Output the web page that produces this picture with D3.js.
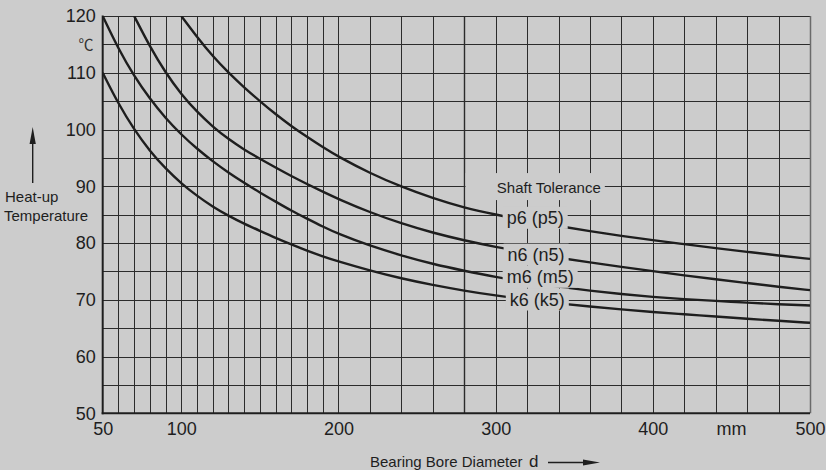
<!DOCTYPE html>
<html>
<head>
<meta charset="utf-8">
<script src="https://cdn.jsdelivr.net/npm/d3@7"></script>
<style>
  html, body { margin: 0; padding: 0; background: #cccccc; }
  svg { display: block; font-family: "Liberation Sans", Arial, Helvetica, sans-serif; }
</style>
</head>
<body>
<div id="chart"></div>
<script>
// bearing bore diameter d (mm) and heat-up temperature (deg C)
var diamP6 = [100, 110, 120, 130, 140, 150, 160, 170, 180, 190, 200, 220, 240, 260, 280, 300, 320, 340, 360, 380, 400, 420, 440, 460, 480, 500];
var tempP6 = [120, 116.3, 112.9, 110, 107.4, 105, 102.7, 100.6, 98.7, 96.9, 95.2, 92.3, 89.9, 87.9, 86.2, 85, 83.95, 83, 82.1, 81.25, 80.5, 79.8, 79.1, 78.45, 77.8, 77.2];

var diamN6 = [70, 80, 90, 100, 110, 120, 130, 140, 150, 160, 170, 180, 190, 200, 220, 240, 260, 280, 300, 320, 340, 360, 380, 400, 420, 440, 460, 480, 500];
var tempN6 = [120, 114.6, 110, 106.2, 103.1, 100.5, 98.3, 96.45, 94.85, 93.3, 91.8, 90.4, 89.05, 87.75, 85.4, 83.45, 81.8, 80.45, 79.3, 78.3, 77.4, 76.6, 75.8, 75.05, 74.3, 73.6, 72.95, 72.3, 71.7];

var diamM6 = [50, 60, 70, 80, 90, 100, 110, 120, 130, 140, 150, 160, 170, 180, 190, 200, 220, 240, 260, 280, 300, 320, 340, 360, 380, 400, 420, 440, 460, 480, 500];
var tempM6 = [120, 114.2, 109.4, 105.4, 102, 99.1, 96.6, 94.4, 92.4, 90.6, 88.9, 87.3, 85.7, 84.3, 82.9, 81.6, 79.5, 77.8, 76.3, 75.1, 74, 73.1, 72.3, 71.6, 71, 70.5, 70.1, 69.8, 69.5, 69.2, 69];

var diamK6 = [50, 60, 70, 80, 90, 100, 110, 120, 130, 140, 150, 160, 170, 180, 190, 200, 220, 240, 260, 280, 300, 320, 340, 360, 380, 400, 420, 440, 460, 480, 500];
var tempK6 = [110, 104.5, 100, 96.2, 93.1, 90.5, 88.3, 86.4, 84.8, 83.4, 82.15, 80.9, 79.75, 78.65, 77.65, 76.75, 75.15, 73.75, 72.6, 71.6, 70.75, 70, 69.35, 68.8, 68.3, 67.85, 67.45, 67.05, 66.65, 66.3, 65.95];

var seriesNames = ["p6 (p5)", "n6 (n5)", "m6 (m5)", "k6 (k5)"];
var xTickValues = [50, 100, 200, 300, 400, 500];
var yTickValues = [50, 60, 70, 80, 90, 100, 110, 120];

document.addEventListener("DOMContentLoaded", function() {

    var width = 826, height = 470;
    var ink = "#1e1e1e";
    var paper = "#cccccc";

    var svg = d3.select("#chart")
        .append("svg")
        .attr("width", width)
        .attr("height", height);

    svg.append("rect")
        .attr("width", width)
        .attr("height", height)
        .attr("fill", paper);

    var x = d3.scaleLinear().domain([50, 500]).range([102.7, 810]);
    var y = d3.scaleLinear().domain([50, 120]).range([413.3, 16]);

    var crisp = function(v) { return Math.round(v) + 0.5; };

    // grid: every 10 mm up to 200, every 20 mm after, every 5 degrees
    var vLines = d3.range(60, 200, 10).concat(d3.range(200, 500, 20));
    var hLines = d3.range(55, 120, 5);

    var grid = svg.append("g");
    grid.selectAll(".vl")
        .data(vLines)
        .enter()
        .append("line")
        .attr("x1", function(d) { return crisp(x(d)); })
        .attr("x2", function(d) { return crisp(x(d)); })
        .attr("y1", y(120))
        .attr("y2", y(50))
        .attr("stroke", "#2b2b2b")
        .attr("stroke-width", function(d) { return d == 280 ? 1.4 : 1; });

    grid.selectAll(".hl")
        .data(hLines)
        .enter()
        .append("line")
        .attr("x1", x(50))
        .attr("x2", x(500))
        .attr("y1", function(d) { return crisp(y(d)); })
        .attr("y2", function(d) { return crisp(y(d)); })
        .attr("stroke", "#2b2b2b")
        .attr("stroke-width", 1);

    // frame
    grid.append("line")
        .attr("x1", x(50)).attr("x2", x(500))
        .attr("y1", crisp(y(120))).attr("y2", crisp(y(120)))
        .attr("stroke", "#2b2b2b");
    grid.append("line")
        .attr("x1", crisp(x(500))).attr("x2", crisp(x(500)))
        .attr("y1", y(120)).attr("y2", y(50))
        .attr("stroke", "#6a6a6a").attr("stroke-width", 1.5);
    grid.append("line")
        .attr("x1", x(50)).attr("x2", x(50))
        .attr("y1", y(120) - 0.5).attr("y2", y(50) + 1)
        .attr("stroke", ink).attr("stroke-width", 2);
    grid.append("line")
        .attr("x1", x(50) - 1).attr("x2", x(500))
        .attr("y1", y(50)).attr("y2", y(50))
        .attr("stroke", ink).attr("stroke-width", 2);

    // legend title, its box hides the grid behind it
    var titleG = svg.append("g");
    var title = titleG.append("text")
        .attr("x", x(300) + 1.2)
        .attr("y", y(88.8))
        .attr("font-size", 15)
        .attr("fill", ink)
        .text("Shaft Tolerance");
    var tb = title.node().getBBox();
    titleG.insert("rect", "text")
        .attr("x", crisp(x(280)) + 1)
        .attr("y", tb.y - 6)
        .attr("width", tb.x + tb.width + 4 - crisp(x(280)) - 1)
        .attr("height", tb.height + 10)
        .attr("fill", paper);

    // curves
    var series = [
        d3.zip(diamP6, tempP6),
        d3.zip(diamN6, tempN6),
        d3.zip(diamM6, tempM6),
        d3.zip(diamK6, tempK6)
    ];

    var line = d3.line()
        .x(function(d) { return x(d[0]); })
        .y(function(d) { return y(d[1]); })
        .curve(d3.curveBasis);

    svg.append("clipPath")
        .attr("id", "plot")
        .append("rect")
        .attr("x", x(50))
        .attr("y", y(120))
        .attr("width", x(500) - x(50))
        .attr("height", y(50) - y(120));

    svg.append("g")
        .attr("clip-path", "url(#plot)")
        .selectAll("path")
        .data(series)
        .enter()
        .append("path")
        .attr("d", line)
        .attr("fill", "none")
        .attr("stroke", ink)
        .attr("stroke-width", 2.4);

    // curve labels with a box that cuts the curve and the grid
    var labelTemps = [84.5, 78.0, 74.1, 70.1];
    var labelLeft = [307, 307.6, 307, 309];
    var labels = svg.append("g")
        .selectAll("g")
        .data(seriesNames)
        .enter()
        .append("g");

    labels.append("text")
        .attr("x", function(d, i) { return x(labelLeft[i]); })
        .attr("y", function(d, i) { return y(labelTemps[i]); })
        .attr("dy", "0.35em")
        .attr("font-size", 18)
        .attr("fill", ink)
        .text(function(d) { return d; });

    labels.each(function() {
        var g = d3.select(this);
        var b = g.select("text").node().getBBox();
        g.insert("rect", "text")
            .attr("x", b.x - 4)
            .attr("y", b.y - 1)
            .attr("width", b.width + 8)
            .attr("height", b.height + 2)
            .attr("fill", paper);
    });

    // axes (labels only)
    var xAxis = svg.append("g")
        .attr("transform", "translate(0," + y(50) + ")")
        .call(d3.axisBottom(x).tickValues(xTickValues).tickSize(0).tickPadding(9).tickFormat(d3.format("d")));
    xAxis.select(".domain").remove();
    xAxis.selectAll("text")
        .attr("font-size", 18)
        .attr("font-family", "Liberation Sans, Arial, sans-serif")
        .attr("fill", ink);

    var yAxis = svg.append("g")
        .attr("transform", "translate(" + x(50) + ",0)")
        .call(d3.axisLeft(y).tickValues(yTickValues).tickSize(0).tickPadding(7));
    yAxis.select(".domain").remove();
    yAxis.selectAll("text")
        .attr("font-size", 18)
        .attr("font-family", "Liberation Sans, Arial, sans-serif")
        .attr("fill", ink);

    svg.append("text")
        .attr("x", x(450))
        .attr("y", y(50) + 9)
        .attr("dy", "0.71em")
        .attr("text-anchor", "middle")
        .attr("font-size", 18)
        .attr("fill", ink)
        .text("mm");

    svg.append("text")
        .attr("x", 86)
        .attr("y", y(115))
        .attr("dy", "0.35em")
        .attr("text-anchor", "middle")
        .attr("font-size", 15)
        .attr("font-family", "Noto Sans CJK JP, DejaVu Sans, sans-serif")
        .attr("fill", "#333")
        .text("℃");

    // y title with upward arrow
    svg.append("text")
        .attr("x", 5)
        .attr("y", 202)
        .attr("font-size", 15)
        .attr("fill", ink)
        .text("Heat-up");
    svg.append("text")
        .attr("x", 4)
        .attr("y", 221)
        .attr("font-size", 15)
        .attr("fill", ink)
        .text("Temperature");
    svg.append("line")
        .attr("x1", 32.7).attr("x2", 32.7)
        .attr("y1", 183).attr("y2", 140)
        .attr("stroke", ink).attr("stroke-width", 1.4);
    svg.append("path")
        .attr("d", "M32.7,127 L29.6,144 L35.8,144 Z")
        .attr("fill", ink);

    // x title with right arrow
    svg.append("text")
        .attr("x", 370)
        .attr("y", 467)
        .attr("font-size", 15)
        .attr("fill", ink)
        .text("Bearing Bore Diameter");
    svg.append("text")
        .attr("x", 529)
        .attr("y", 467)
        .attr("font-size", 17)
        .attr("fill", ink)
        .text("d");
    svg.append("line")
        .attr("x1", 548).attr("x2", 586)
        .attr("y1", 462.5).attr("y2", 462.5)
        .attr("stroke", ink).attr("stroke-width", 1.4);
    svg.append("path")
        .attr("d", "M600,462.5 L583,459.6 L583,465.4 Z")
        .attr("fill", ink);
});
</script>
</body>
</html>
